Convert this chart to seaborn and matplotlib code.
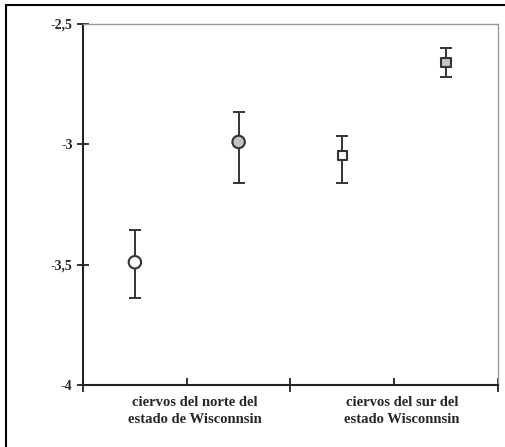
import matplotlib
matplotlib.use("Agg")
from matplotlib import pyplot as plt
from matplotlib.lines import Line2D
from matplotlib.transforms import ScaledTranslation
import seaborn as sns
import pandas as pd

# datos
grupos = ["norte", "norte", "sur", "sur"]
posicion = [0.25, 0.75, 1.25, 1.75]
media = [-3.49, -2.99, -3.045, -2.66]
err_sup = [-3.355, -2.865, -2.965, -2.598]
err_inf = [-3.64, -3.16, -3.16, -2.72]
relleno = ["white", "#c4c4c4", "white", "#c4c4c4"]
etiquetas_x = ["ciervos del norte del\nestado de Wisconnsin",
               "ciervos del sur del\nestado Wisconnsin"]
ticks_y = [-4, -3.5, -3, -2.5]
etiquetas_y = ["-4", "-3,5", "-3", "-2,5"]

df = pd.DataFrame({"grupo": grupos, "x": posicion, "y": media,
                   "sup": err_sup, "inf": err_inf, "fill": relleno})

sns.set_style("white")
plt.rcParams["font.family"] = ["Liberation Serif", "DejaVu Serif"]

fig = plt.figure(figsize=(5.05, 4.47), dpi=100)
ax = fig.add_axes([0.1644, 0.1387, 0.8216, 0.8076])

# barras de error
ax.errorbar(df["x"], df["y"],
            yerr=[df["y"] - df["inf"], df["sup"] - df["y"]],
            fmt="none", ecolor="#333333", elinewidth=1.4,
            capsize=4, capthick=1.4, zorder=2)

marcas = {"norte": "o", "sur": "s"}
tamanos = {"norte": 80, "sur": 45}
for g, sub in df.groupby("grupo"):
    sns.scatterplot(data=sub, x="x", y="y", marker=marcas[g], s=tamanos[g],
                    color=list(sub["fill"]), edgecolor="#333333",
                    linewidth=1.5, ax=ax, zorder=3, legend=False)

ax.set_xlim(0, 2)
ax.set_ylim(-4, -2.5)
ax.set_xlabel("")
ax.set_ylabel("")

ax.set_yticks(ticks_y)
ax.set_yticklabels(etiquetas_y, fontsize=10, fontweight="bold")
ax.set_xticks([0.5, 1.5])
ax.set_xticklabels(etiquetas_x, fontsize=10.5, fontweight="bold",
                   linespacing=1.35)
ax.set_xticks([0, 1, 2], minor=True)
ax.tick_params(axis="y", direction="inout", length=9, width=1.3,
               color="#222222", pad=3, left=True)
ax.tick_params(axis="x", which="major", direction="in", length=5,
               width=1.3, color="#222222", pad=8, bottom=True)
ax.tick_params(axis="x", which="minor", direction="inout", length=10,
               width=1.3, color="#222222", bottom=True)
desplaza = ScaledTranslation(8 / 100, 0, fig.dpi_scale_trans)
for lab in ax.get_xticklabels():
    lab.set_transform(lab.get_transform() + desplaza)

for s in ["left", "bottom"]:
    ax.spines[s].set_color("#222222")
    ax.spines[s].set_linewidth(1.5)
for s in ["top", "right"]:
    ax.spines[s].set_color("#999999")
    ax.spines[s].set_linewidth(1.0)

# marco exterior
fig.add_artist(Line2D([0.011, 0.011], [0, 0.989], color="black", lw=1.5,
                      transform=fig.transFigure))
fig.add_artist(Line2D([0.011, 1.0], [0.989, 0.989], color="black", lw=1.5,
                      transform=fig.transFigure))

fig.savefig("out.png", dpi=100)
